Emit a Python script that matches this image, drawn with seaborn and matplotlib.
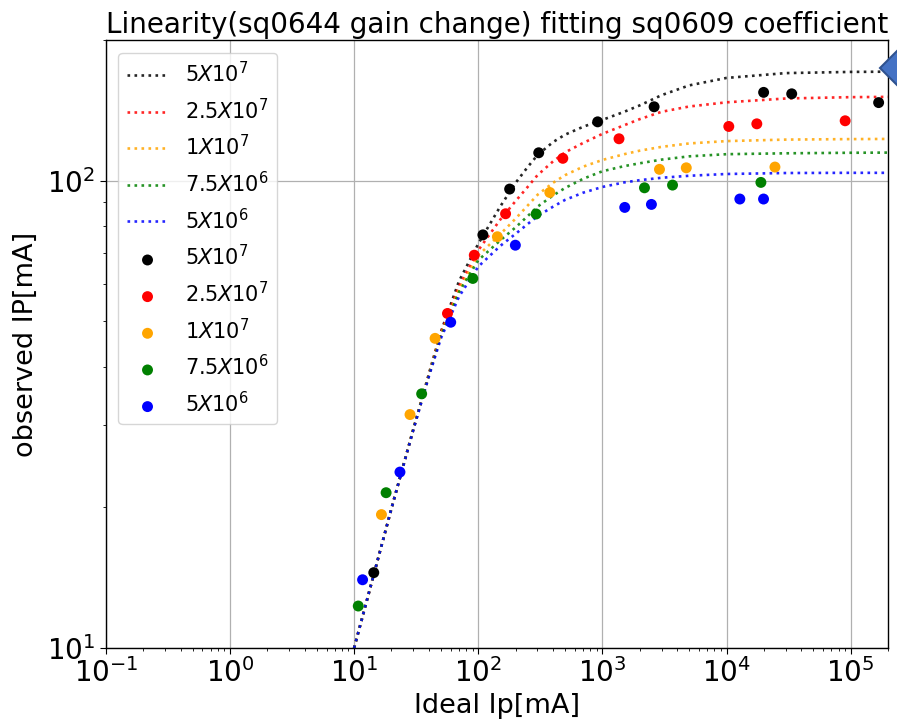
import numpy as np
import pandas as pd
import matplotlib
matplotlib.use("Agg")
import matplotlib.pyplot as plt
from matplotlib.patches import Polygon
from matplotlib.ticker import NullFormatter
import seaborn as sns

# ---- fitted linearity curves (ideal Ip grid, observed Ip per gain) ----
fit_ideal = [10, 20, 30, 40, 50, 70, 100, 150, 200, 250, 300, 400, 500, 700,
             1000, 1500, 2000, 3000, 5000, 1e4, 3e4, 1e5, 2e5]
fit_5e7 = [10, 19.9, 29.4, 38.6, 47.5, 61.0, 73.3, 88.0, 99.0, 107.0, 113.5,
           121.0, 125.5, 130.5, 135.0, 140.5, 145.0, 152.5, 160.0, 166.0,
           170.0, 171.0, 171.2]
fit_2p5e7 = [10, 19.9, 29.4, 38.5, 47.2, 59.5, 71.0, 82.5, 90.5, 97.0, 102.8,
             110.0, 115.0, 120.5, 126.0, 131.5, 135.5, 140.5, 144.2, 147.2,
             150.0, 151.0, 151.2]
fit_1e7 = [10, 19.9, 29.4, 38.4, 46.8, 58.5, 69.2, 76.8, 83.0, 88.5, 93.3,
           99.0, 102.8, 107.2, 110.8, 114.0, 116.0, 118.2, 120.2, 121.6,
           122.5, 122.8, 122.9]
fit_7p5e6 = [10, 19.9, 29.4, 38.3, 46.5, 57.8, 67.6, 74.5, 79.5, 84.0, 88.0,
             93.0, 96.5, 101.0, 104.8, 107.5, 109.0, 111.0, 112.8, 114.0,
             114.5, 114.8, 114.9]
fit_5e6 = [10, 19.9, 29.3, 38.1, 46.0, 56.5, 65.5, 72.5, 77.0, 80.8, 84.0,
           88.0, 91.0, 94.3, 97.0, 99.2, 100.3, 101.5, 102.5, 103.4, 103.9,
           104.0, 104.0]

# ---- measured points ----
meas_5e7_x = [14.4, 109, 179, 307, 916, 2610, 19900, 33500, 168000]
meas_5e7_y = [14.5, 76.6, 96.0, 114.8, 133.7, 144.0, 154.6, 153.5, 147.0]
meas_2p5e7_x = [56.5, 92.9, 166, 480, 1361, 10430, 17540, 90300]
meas_2p5e7_y = [52.0, 69.3, 85.0, 111.7, 123.0, 130.7, 132.4, 134.4]
meas_1e7_x = [16.6, 28.2, 44.9, 142.6, 377, 2883, 4740, 24550]
meas_1e7_y = [19.3, 31.6, 46.0, 75.9, 94.4, 105.8, 106.6, 107.0]
meas_7p5e6_x = [10.8, 18.1, 35.0, 90.4, 292.6, 2183, 3673, 18920]
meas_7p5e6_y = [12.3, 21.5, 35.0, 61.8, 84.9, 96.6, 97.9, 99.2]
meas_5e6_x = [11.7, 23.4, 60.0, 199, 1514, 2483, 12800, 19870]
meas_5e6_y = [14.0, 23.8, 49.8, 72.8, 87.7, 89.0, 91.4, 91.4]

gain_labels = [r"$5X10^7$", r"$2.5X10^7$", r"$1X10^7$", r"$7.5X10^6$", r"$5X10^6$"]
colors = ["black", "red", "orange", "green", "blue"]

fits = [fit_5e7, fit_2p5e7, fit_1e7, fit_7p5e6, fit_5e6]
meas = [(meas_5e7_x, meas_5e7_y), (meas_2p5e7_x, meas_2p5e7_y),
        (meas_1e7_x, meas_1e7_y), (meas_7p5e6_x, meas_7p5e6_y),
        (meas_5e6_x, meas_5e6_y)]

plt.rcParams["font.family"] = ["DejaVu Sans"]
plt.rcParams["mathtext.fontset"] = "dejavusans"

fig = plt.figure(figsize=(8.97, 7.19), dpi=100)
ax = fig.add_axes([0.118, 0.0987, 0.872, 0.8455])

for lab, col, fy in zip(gain_labels, colors, fits):
    sns.lineplot(x=fit_ideal, y=fy, ax=ax, color=col, linestyle=":",
                 linewidth=1.9, alpha=0.85, label=lab, estimator=None, sort=False)

for lab, col, (mx, my) in zip(gain_labels, colors, meas):
    sns.scatterplot(x=mx, y=my, ax=ax, color=col, s=62, linewidth=0,
                    edgecolor="none", label=lab, zorder=3)

ax.set_xscale("log")
ax.set_yscale("log")
ax.set_xlim(0.1, 2e5)
ax.set_ylim(10, 200)
ax.yaxis.set_minor_formatter(NullFormatter())
ax.xaxis.set_minor_formatter(NullFormatter())
ax.grid(True, which="major", color="#b0b0b0", linewidth=0.9)
for sp in ax.spines.values():
    sp.set_color("black")
    sp.set_linewidth(1.0)
ax.tick_params(axis="both", which="major", labelsize=20, length=4)
ax.tick_params(axis="both", which="minor", length=2.5)

ax.set_xlabel("Ideal Ip[mA]", fontsize=19.5, labelpad=3)
ax.set_ylabel("observed IP[mA]", fontsize=19.5, labelpad=6)
ax.set_title("Linearity(sq0644 gain change) fitting sq0609 coefficient",
             fontsize=20, pad=5)

ax.legend(loc="upper left", fontsize=15, framealpha=0.8, labelspacing=0.55,
          bbox_to_anchor=(0.0, 1.0), borderaxespad=0.6)

# callout marker at the right edge
W, H = 897, 719
pts = [(880, 68), (906, 42), (932, 68), (906, 94)]
diamond = Polygon([(px / W, 1 - py / H) for px, py in pts], closed=True,
                  transform=fig.transFigure, facecolor="#4472C4",
                  edgecolor="#2F528F", linewidth=1.5, clip_on=False)
fig.patches.append(diamond)

fig.savefig("out.png", dpi=100)
